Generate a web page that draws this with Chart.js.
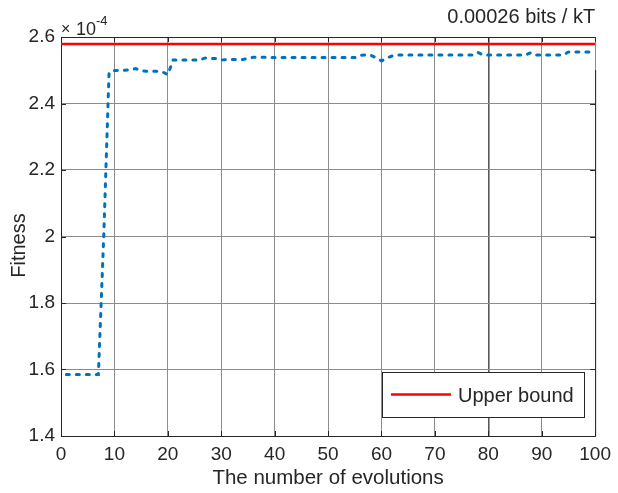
<!DOCTYPE html>
<html>
<head>
<meta charset="utf-8">
<script src="https://cdn.jsdelivr.net/npm/chart.js@4.4.1/dist/chart.umd.min.js"></script>
<style>
html, body { margin: 0; padding: 0; background: #fff; }
#wrap { width: 618px; height: 493px; }
</style>
</head>
<body>
<div id="wrap"><canvas id="graph" width="618" height="493"></canvas></div>
<script>
// fitness values are in units of 1e-4 (axis multiplier shown as x10^-4)
const evolutions = [
    1, 2, 3, 4, 5, 6, 7, 8, 9, 10,
    11, 12, 13, 14, 15, 16, 17, 18, 19, 20,
    21, 22, 23, 24, 25, 26, 27, 28, 29, 30,
    31, 32, 33, 34, 35, 36, 37, 38, 39, 40,
    41, 42, 43, 44, 45, 46, 47, 48, 49, 50,
    51, 52, 53, 54, 55, 56, 57, 58, 59, 60,
    61, 62, 63, 64, 65, 66, 67, 68, 69, 70,
    71, 72, 73, 74, 75, 76, 77, 78, 79, 80,
    81, 82, 83, 84, 85, 86, 87, 88, 89, 90,
    91, 92, 93, 94, 95, 96, 97, 98, 99, 100
];
const fitness = [
    1.585, 1.585, 1.585, 1.585, 1.585, 1.585, 1.585, 2.000, 2.494, 2.499,
    2.500, 2.500, 2.502, 2.505, 2.499, 2.497, 2.497, 2.497, 2.495, 2.487,
    2.531, 2.531, 2.531, 2.531, 2.531, 2.531, 2.537, 2.535, 2.535, 2.531,
    2.532, 2.532, 2.532, 2.532, 2.536, 2.539, 2.539, 2.539, 2.538, 2.538,
    2.538, 2.538, 2.538, 2.538, 2.538, 2.538, 2.538, 2.538, 2.538, 2.538,
    2.538, 2.538, 2.538, 2.538, 2.538, 2.545, 2.546, 2.545, 2.537, 2.528,
    2.537, 2.543, 2.546, 2.546, 2.546, 2.546, 2.546, 2.546, 2.546, 2.546,
    2.546, 2.546, 2.546, 2.546, 2.546, 2.546, 2.546, 2.554, 2.546, 2.546,
    2.546, 2.546, 2.546, 2.546, 2.546, 2.546, 2.546, 2.553, 2.546, 2.546,
    2.546, 2.546, 2.546, 2.546, 2.555, 2.555, 2.555, 2.555, 2.555, 2.555
];
const boundX = [0, 100];
const boundY = [2.579, 2.579];

const xTicks = [0, 10, 20, 30, 40, 50, 60, 70, 80, 90, 100];
const yTicks = [1.4, 1.6, 1.8, 2.0, 2.2, 2.4, 2.6];

const titleText = '0.00026 bits / kT';
const xLabel = 'The number of evolutions';
const yLabel = 'Fitness';
const legendLabel = 'Upper bound';

const FONT = "Arial, 'Liberation Sans', Helvetica, sans-serif";
const TEXT = '#262626';
const AXIS = '#262626';

const extras = {
    id: 'extras',
    beforeDatasetsDraw(chart) {
        const ctx = chart.ctx;
        const a = chart.chartArea;
        const xs = chart.scales.x, ys = chart.scales.y;
        ctx.save();
        ctx.strokeStyle = AXIS;
        ctx.lineWidth = 1;
        ctx.beginPath();
        // box (right edge only partly dark, as in the reference)
        ctx.moveTo(a.left + 0.5, a.top + 0.5);
        ctx.lineTo(a.right + 0.5, a.top + 0.5);
        ctx.moveTo(a.left + 0.5, a.top);
        ctx.lineTo(a.left + 0.5, a.bottom + 0.5);
        ctx.lineTo(a.right + 0.5, a.bottom + 0.5);
        ctx.moveTo(a.right + 0.5, 70);
        ctx.lineTo(a.right + 0.5, a.bottom + 0.5);
        // inward tick marks
        const tl = 5;
        xTicks.forEach(v => {
            const px = Math.round(xs.getPixelForValue(v)) + 0.5;
            ctx.moveTo(px, a.bottom);
            ctx.lineTo(px, a.bottom - tl);
            ctx.moveTo(px, a.top);
            ctx.lineTo(px, a.top + tl);
        });
        yTicks.forEach(v => {
            const py = Math.round(ys.getPixelForValue(v)) + 0.5;
            ctx.moveTo(a.left, py);
            ctx.lineTo(a.left + tl, py);
            ctx.moveTo(a.right, py);
            ctx.lineTo(a.right - tl, py);
        });
        ctx.stroke();
        ctx.restore();
    },
    afterDraw(chart) {
        const ctx = chart.ctx;
        const a = chart.chartArea;
        ctx.save();
        ctx.fillStyle = TEXT;
        ctx.textBaseline = 'alphabetic';

        // title, top right
        ctx.font = '20px ' + FONT;
        ctx.textAlign = 'right';
        ctx.fillText(titleText, a.right, 22.5);

        // x10^-4 multiplier
        ctx.textAlign = 'left';
        ctx.font = '16px ' + FONT;
        ctx.fillText('\u00d7', 61, 34);
        ctx.font = '18px ' + FONT;
        ctx.fillText('10', 76, 35);
        ctx.font = '13px ' + FONT;
        ctx.fillText('-4', 96, 25);

        // y axis label
        ctx.save();
        ctx.translate(19.5, 245.5);
        ctx.rotate(-Math.PI / 2);
        ctx.textAlign = 'center';
        ctx.textBaseline = 'middle';
        ctx.font = '20px ' + FONT;
        ctx.fillText(yLabel, 0, 0);
        ctx.restore();

        // legend box
        ctx.fillStyle = '#ffffff';
        ctx.fillRect(382, 372, 202, 45);
        ctx.strokeStyle = AXIS;
        ctx.lineWidth = 1;
        ctx.strokeRect(382.5, 372.5, 202, 45);
        const ds = chart.data.datasets[1];
        ctx.strokeStyle = ds.borderColor;
        ctx.lineWidth = ds.borderWidth;
        ctx.beginPath();
        ctx.moveTo(391, 394.5);
        ctx.lineTo(451, 394.5);
        ctx.stroke();
        ctx.fillStyle = TEXT;
        ctx.font = '20px ' + FONT;
        ctx.textAlign = 'left';
        ctx.fillText(ds.label, 458, 401.5);
        ctx.restore();
    }
};

new Chart(document.getElementById('graph'), {
    type: 'line',
    data: {
        datasets: [{
            label: 'Fitness',
            data: evolutions.map((x, i) => ({ x: x, y: fitness[i] })),
            borderColor: '#0072BD',
            borderWidth: 3,
            borderDash: [3, 7],
            borderCapStyle: 'round',
            pointRadius: 0,
            tension: 0,
            fill: false
        }, {
            label: legendLabel,
            data: boundX.map((x, i) => ({ x: x, y: boundY[i] })),
            borderColor: '#FF0000',
            borderWidth: 2.5,
            pointRadius: 0,
            fill: false
        }]
    },
    options: {
        responsive: false,
        animation: false,
        devicePixelRatio: 1,
        layout: { padding: { top: 37, right: 21, left: 0, bottom: 0 } },
        plugins: {
            legend: { display: false },
            tooltip: { enabled: false }
        },
        scales: {
            x: {
                type: 'linear',
                min: 0,
                max: 100,
                afterBuildTicks: s => { s.ticks = xTicks.map(v => ({ value: v })); },
                afterFit: s => { s.height = 57; },
                grid: {
                    drawTicks: false,
                    color: c => (c.tick && c.tick.value === 80) ? '#5a5a5a' : '#8c8c8c',
                    lineWidth: c => (c.tick && c.tick.value === 80) ? 1.6 : 1
                },
                border: { display: false },
                ticks: {
                    color: TEXT,
                    padding: 7,
                    maxRotation: 0,
                    font: { family: FONT, size: 19 }
                },
                title: {
                    display: true,
                    text: xLabel,
                    color: TEXT,
                    padding: { top: 0, bottom: 2 },
                    font: { family: FONT, size: 20.5 }
                }
            },
            y: {
                min: 1.4,
                max: 2.6,
                afterBuildTicks: s => { s.ticks = yTicks.map(v => ({ value: v })); },
                afterFit: s => { s.width = 61; },
                grid: { drawTicks: false, color: '#8c8c8c' },
                border: { display: false },
                ticks: {
                    color: TEXT,
                    padding: 6,
                    font: { family: FONT, size: 19 },
                    callback: v => String(parseFloat(Number(v).toFixed(1)))
                }
            }
        }
    },
    plugins: [extras]
});
</script>
</body>
</html>
